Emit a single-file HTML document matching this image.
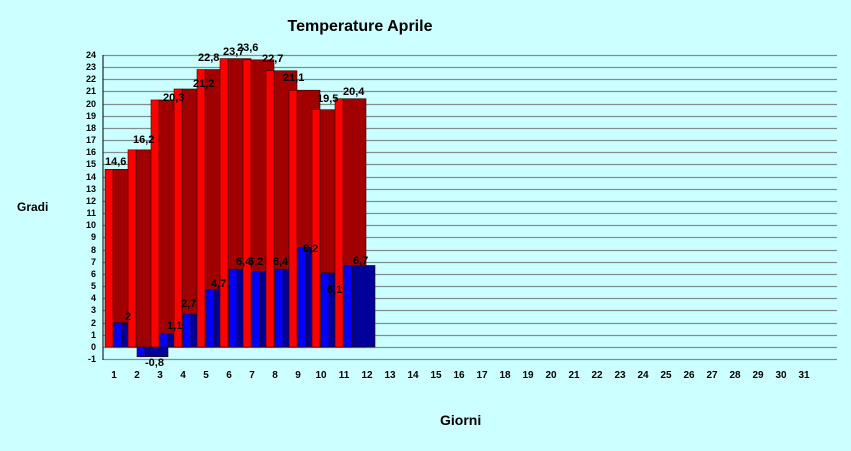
<!DOCTYPE html>
<html><head><meta charset="utf-8"><style>
body{margin:0;background:#ccffff;}
svg{display:block;font-family:"Liberation Sans",Arial,sans-serif;font-weight:bold;}
</style></head><body>
<svg id="s" width="851" height="451" viewBox="0 0 851 451">
<rect width="851" height="451" fill="#ccffff"/>
<g id="grid"></g>
<g id="bars"></g>
<line x1="103" y1="55" x2="103" y2="360" stroke="#000" stroke-width="1"/>
<text x="360" y="31" font-size="16" text-anchor="middle" fill="#000">Temperature Aprile</text>
<text x="17" y="211" font-size="12" fill="#000">Gradi</text>
<text x="440" y="425" font-size="14" fill="#000">Giorni</text>
<g font-size="9" text-anchor="end" fill="#000">
<text x="96" y="58">24</text><text x="96" y="70">23</text><text x="96" y="82">22</text><text x="96" y="94">21</text><text x="96" y="107">20</text><text x="96" y="119">19</text><text x="96" y="131">18</text><text x="96" y="143">17</text><text x="96" y="155">16</text><text x="96" y="167">15</text><text x="96" y="180">14</text><text x="96" y="192">13</text><text x="96" y="204">12</text><text x="96" y="216">11</text><text x="96" y="228">10</text><text x="96" y="240">9</text><text x="96" y="253">8</text><text x="96" y="265">7</text><text x="96" y="277">6</text><text x="96" y="289">5</text><text x="96" y="301">4</text><text x="96" y="313">3</text><text x="96" y="326">2</text><text x="96" y="338">1</text><text x="96" y="350">0</text><text x="96" y="362">-1</text>
</g>
<g font-size="10" text-anchor="middle" fill="#000">
<text x="114" y="378">1</text><text x="137" y="378">2</text><text x="160" y="378">3</text><text x="183" y="378">4</text><text x="206" y="378">5</text><text x="229" y="378">6</text><text x="252" y="378">7</text><text x="275" y="378">8</text><text x="298" y="378">9</text><text x="321" y="378">10</text><text x="344" y="378">11</text><text x="367" y="378">12</text><text x="390" y="378">13</text><text x="413" y="378">14</text><text x="436" y="378">15</text><text x="459" y="378">16</text><text x="482" y="378">17</text><text x="505" y="378">18</text><text x="528" y="378">19</text><text x="551" y="378">20</text><text x="574" y="378">21</text><text x="597" y="378">22</text><text x="620" y="378">23</text><text x="643" y="378">24</text><text x="666" y="378">25</text><text x="689" y="378">26</text><text x="712" y="378">27</text><text x="735" y="378">28</text><text x="758" y="378">29</text><text x="781" y="378">30</text><text x="804" y="378">31</text>
</g>
<g font-size="11" fill="#000">
<text x="105" y="165">14,6</text>
<text x="133" y="143">16,2</text>
<text x="163" y="101">20,3</text>
<text x="193" y="87">21,2</text>
<text x="198" y="61">22,8</text>
<text x="223" y="55">23,7</text>
<text x="237" y="51">23,6</text>
<text x="262" y="62">22,7</text>
<text x="283" y="81">21,1</text>
<text x="317" y="102">19,5</text>
<text x="343" y="95">20,4</text>
<text x="125" y="320">2</text>
<text x="145" y="366">-0,8</text>
<text x="167" y="329">1,1</text>
<text x="181" y="307">2,7</text>
<text x="211" y="287">4,7</text>
<text x="236" y="265">6,4</text>
<text x="248" y="265">6,2</text>
<text x="273" y="265">6,4</text>
<text x="303" y="252">8,2</text>
<text x="327" y="293">6,1</text>
<text x="353" y="264">6,7</text>
</g>
</svg>
<script>
(function(){
var NS="http://www.w3.org/2000/svg";
function r(g,x,y,w,h,f){var e=document.createElementNS(NS,"rect");e.setAttribute("x",x);e.setAttribute("y",y);e.setAttribute("width",w);e.setAttribute("height",h);e.setAttribute("fill",f);e.setAttribute("stroke","#300");e.setAttribute("stroke-width","0.6");g.appendChild(e);}
function Y(v){return 347-12.17*v;}
var grid=document.getElementById("grid");
for(var v=-1;v<=24;v++){var y=Math.round(Y(v))+0.5;var l=document.createElementNS(NS,"line");l.setAttribute("x1",103);l.setAttribute("x2",837);l.setAttribute("y1",y);l.setAttribute("y2",y);l.setAttribute("stroke","#7f8f8f");l.setAttribute("stroke-width","1.2");grid.appendChild(l);}
var mx=[14.6,16.2,20.3,21.2,22.8,23.7,23.6,22.7,21.1,19.5,20.4];
var mn=[2,-0.8,1.1,2.7,4.7,6.4,6.2,6.4,8.2,6.1,6.7];
var b=document.getElementById("bars");
for(var i=0;i<11;i++){
 var x0=105+23*i;var t=Y(mx[i]);var z=Y(0);
 r(b,x0+8,t,23,z-t,"#a00000");
 r(b,x0,t,8,z-t,"#ff0000");
 var m=Y(mn[i]);var bt=Math.min(m,z),h=Math.abs(m-z);
 r(b,x0+17,bt,23,h,"#000099");
 r(b,x0+9,bt,8,h,"#0000ff");
}
})();
</script>
</body></html>
